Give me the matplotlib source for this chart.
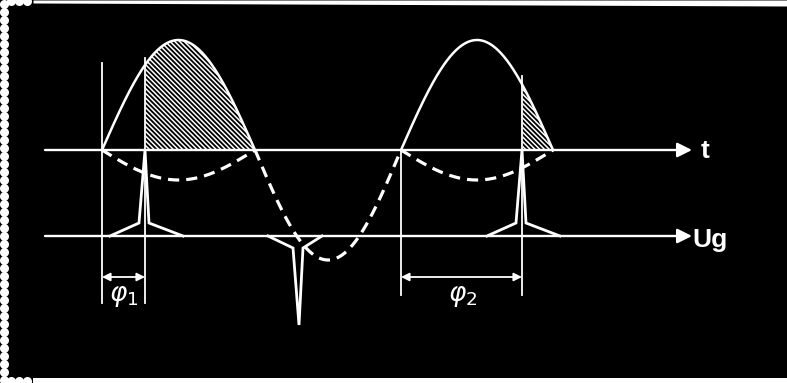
import numpy as np
import matplotlib
matplotlib.use("Agg")
import matplotlib.pyplot as plt

# diagram data (pixel-like units, y grows downward)
zero_cross = [102, 255, 401, 553]     # zero crossings of the supply voltage
amp_main = 110                        # amplitude of the sine
amp_inner = 30                        # amplitude of the small dashed arcs
t_axis_y = 150
ug_axis_y = 236
axis_x0, axis_x1 = 45, 692
fire_x = [145, 522]                   # firing points (pulse positions)
neg_pulse_x = 299
# pulse outline offsets (dx, dy) from pulse position on the Ug axis
pos_pulse = [(-35, 0), (-6, -13), (0, -86), (4, -13), (38, 0)]
neg_pulse = [(-31, 0), (-6, 12), (0, 89), (4, 12), (23, 0)]
ref_lines = [(102, 63, 303), (145, 58, 303), (401, 150, 295), (522, 76, 295)]
dims = [(102, 145, r'$\varphi_1$', 124), (401, 522, r'$\varphi_2$', 463)]

W, H = 787, 383
plt.rcParams['hatch.linewidth'] = 1.1
fig = plt.figure(figsize=(W / 100, H / 100), dpi=100, facecolor='black')
ax = fig.add_axes([0, 0, 1, 1])
ax.set_facecolor('black')
ax.set_xlim(0, W)
ax.set_ylim(H, 0)
ax.axis('off')

wc = 'white'

def half_wave(i, amp, n=200):
    x = np.linspace(zero_cross[i], zero_cross[i + 1], n)
    y = t_axis_y - amp * np.sin(np.pi * (x - x[0]) / (x[-1] - x[0]))
    return x, y

# hatched areas after firing
for fx, i in zip(fire_x, [0, 2]):
    x, y = half_wave(i, amp_main)
    m = x >= fx
    ax.fill_between(x[m], y[m], t_axis_y, facecolor='none', edgecolor=wc,
                    hatch='\\' * 7, linewidth=0)

# positive half waves (solid) and small dashed arcs
for i in [0, 2]:
    x, y = half_wave(i, amp_main)
    ax.plot(x, y, color=wc, lw=1.8)
    x, y = half_wave(i, -amp_inner)
    ax.plot(x, y, color=wc, lw=2.3, dashes=(3.5, 2.2))

# negative half wave (dashed)
x, y = half_wave(1, -amp_main)
ax.plot(x, y, color=wc, lw=2.3, dashes=(3.5, 2.2))

# axes with arrows
for yy in [t_axis_y, ug_axis_y]:
    ax.annotate('', xy=(axis_x1, yy), xytext=(axis_x0, yy),
                arrowprops=dict(arrowstyle='-|>', color=wc, lw=1.7,
                                mutation_scale=22, shrinkA=0, shrinkB=0))
ax.text(701, t_axis_y + 1, 't', color=wc, fontsize=19, family='Liberation Sans',
        fontweight='bold', ha='left', va='center')
ax.text(692, ug_axis_y + 4, 'Ug', color=wc, fontsize=19, family='Liberation Sans',
        fontweight='bold', ha='left', va='center')

# reference verticals
for xx, y0, y1 in ref_lines:
    ax.plot([xx, xx], [y0, y1], color=wc, lw=1.3)

# gate pulses
for fx in fire_x:
    px = [fx + d[0] for d in pos_pulse]
    py = [ug_axis_y + d[1] for d in pos_pulse]
    ax.plot(px, py, color=wc, lw=2.0, solid_joinstyle='miter')
px = [neg_pulse_x + d[0] for d in neg_pulse]
py = [ug_axis_y + d[1] for d in neg_pulse]
ax.plot(px, py, color=wc, lw=2.0, solid_joinstyle='miter')

# phase angle dimensions
for xa, xb, lab, lx in dims:
    ax.annotate('', xy=(xb, 277), xytext=(xa, 277),
                arrowprops=dict(arrowstyle='<|-|>', color=wc, lw=1.3,
                                mutation_scale=12, shrinkA=0, shrinkB=0))
    ax.text(lx, 296, lab, color=wc, fontsize=19, ha='center', va='center')

# scanned page borders
ax.fill_between([33, W], 0, [3, 6], color=wc, lw=0)
ax.fill_between([33, W], 378, H, color=wc, lw=0)
yy = np.arange(4, H, 8)
ax.plot(np.full(len(yy), 3.5), yy, 'o', color=wc, ms=6.5, mec='none')
xx = np.arange(11, 35, 8)
ax.plot(xx, np.full(len(xx), 0.5), 'o', color=wc, ms=6.5, mec='none')
ax.plot(xx, np.full(len(xx), 381), 'o', color=wc, ms=6.5, mec='none')

fig.savefig('out.png', dpi=100, facecolor='black')
